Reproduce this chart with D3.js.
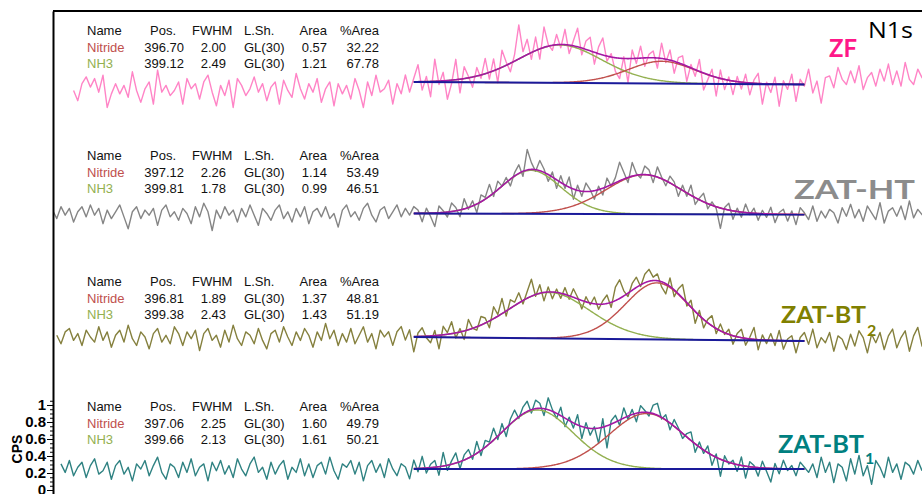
<!DOCTYPE html>
<html><head><meta charset="utf-8">
<script src="https://cdn.jsdelivr.net/npm/d3@7"></script>
<style>body{margin:0;background:#fff}svg{display:block}</style>
</head><body>
<svg id="chart" width="922" height="494"></svg>
<script>
// ---------------- data ----------------
const spectra = ["ZF", "ZAT-HT", "ZAT-BT2", "ZAT-BT1"];
const labelMain = ["ZF", "ZAT-HT", "ZAT-BT", "ZAT-BT"];
const labelSub = ["", "", "2", "1"];
const tableHeaders = ["Name", "Pos.", "FWHM", "L.Sh.", "Area", "%Area"];
const componentNames = ["Nitride", "NH3"];
const lineShape = "GL(30)";
const nitridePos = [396.70, 397.12, 396.81, 397.06];
const nitrideFwhm = [2.00, 2.26, 1.89, 2.25];
const nitrideArea = [0.57, 1.14, 1.37, 1.60];
const nitridePct = [32.22, 53.49, 48.81, 49.79];
const nh3Pos = [399.12, 399.81, 399.38, 399.66];
const nh3Fwhm = [2.49, 1.78, 2.43, 2.13];
const nh3Area = [1.21, 0.99, 1.43, 1.61];
const nh3Pct = [67.78, 46.51, 51.19, 50.21];
const fitRange = [402.6, 393.3];            // binding energy, eV
const bgStart = [4.800, 3.253, 1.800, 0.247]; // CPS at fit start (402.6 eV)
const bgEnd = [4.771, 3.241, 1.753, 0.247];   // CPS at fit end (393.3 eV)
const rawStartBE = [410.7, 411.2, 411.1, 411.0];
const rawStepBE = 0.1;
const yTickValues = [0, 0.2, 0.4, 0.6, 0.8, 1];
// measured residuals (0.01 CPS) of each spectrum about background + fit
const zfResidual = [
 -10,-22,-2,6,-6,4,-12,8,-30,-14,
 -2,-14,-4,-18,12,-10,-24,-8,0,-26,
 14,-12,-4,-16,-10,0,-26,4,-8,-2,
 -20,0,8,-12,-28,-4,-16,2,-30,4,
 -4,-16,-8,6,-12,-2,-22,-6,0,-26,
 2,-10,-18,10,-8,-20,-2,-12,4,-24,
 -8,0,-28,-2,-14,-4,-20,4,-10,-30,
 0,-16,8,-12,-8,2,-26,-2,-14,8,
 -12,4,20,-10,6,-18,26,-4,10,-22,
 -4,24,-16,14,2,-12,10,-4,18,-8,
 14,-16,20,4,-10,8,40,6,18,-8,
 16,-12,24,2,-6,12,-4,18,-10,6,
 22,-8,10,16,-14,8,20,-6,4,-16,
 -24,2,-28,10,-6,14,-10,4,8,-12,
 18,-4,12,-14,6,10,-18,4,-8,14,
 -20,-6,8,-22,10,-12,4,-16,6,-8,
 10,-14,4,12,-24,2,-10,8,-26,4,
 -6,12,-20,6,-2,18,-10,4,-22,8,
 10,-4,20,6,0,16,2,22,-6,8,
 14,-2,18,4,24,0,16,-2,26,6,
 0,18,8,2];
const htResidual = [
 4,-6,8,-2,6,-10,2,8,-4,10,
 -2,6,-12,4,-6,2,10,-4,-18,2,
 8,-6,4,-2,6,-14,4,10,-4,2,
 -8,6,0,-12,8,-4,12,2,-20,4,
 -6,8,-2,4,-10,6,-4,10,-2,-14,
 6,0,-8,4,10,-6,2,-10,6,-4,
 8,-12,2,6,-4,8,-6,0,-16,4,
 10,-4,2,-8,6,12,-2,-10,4,8,
 -6,2,10,-4,6,-2,8,4,-10,6,
 -4,-16,8,2,-6,10,4,-8,12,-2,
 6,-10,8,2,14,-4,10,0,6,-8,
 4,10,-6,24,8,-2,12,4,-8,6,
 -10,8,-4,12,-12,6,-6,10,2,-10,
 4,-8,10,-2,6,22,8,-6,16,2,
 -4,10,6,-8,12,2,-6,8,4,-10,
 6,-4,12,-8,2,10,-6,4,-2,-24,
 2,8,-10,4,-6,10,-2,6,-8,4,
 -4,8,-10,2,6,-8,4,-12,8,2,
 -6,10,-8,4,-4,6,2,-10,8,-2,
 12,-4,6,-8,10,2,-6,14,-10,4,
 8,-2,10,-6,16,-4,6,0,-8];
const bt2Residual = [
 2,-8,6,10,-4,4,-10,8,0,-6,
 12,-4,6,-12,2,8,-6,14,-2,-10,
 6,0,-14,4,10,-6,2,-8,12,4,
 -10,6,-2,8,-16,4,10,-4,2,-12,
 8,-6,14,-2,-10,6,2,-8,10,-4,
 -14,4,8,-6,12,0,-10,6,-4,10,
 2,-12,6,-4,16,-2,8,-10,4,-6,
 10,-8,2,12,-6,4,-14,8,0,6,
 -10,6,12,-4,8,-18,4,10,-2,-8,
 6,-16,10,2,14,-6,4,-10,12,0,
 -4,10,6,-8,14,2,18,-6,10,4,
 12,-4,8,20,-2,10,-10,6,-8,4,
 -6,8,-4,10,2,-10,6,-2,8,-6,
 4,10,-6,16,22,6,-4,8,12,-2,
 10,14,4,8,-6,-12,10,-8,6,16,
 -4,8,-14,6,-10,4,12,-6,8,-2,
 6,-10,4,10,-8,2,14,-12,6,-4,
 8,-6,12,-10,2,6,-14,4,10,-4,
 14,-8,4,-2,10,-12,6,2,-10,8,
 -6,12,4,-14,8,-2,10,-10,6,14,
 -8,4,12,-12,6,16,-6,4];
const bt1Residual = [
 6,-4,10,-8,2,8,-10,4,12,-6,
 -2,8,-12,4,10,-6,2,-14,6,0,
 10,-8,4,14,-4,-12,6,2,-10,8,
 -4,12,-8,2,6,-14,8,-2,10,-6,
 4,-10,12,0,-8,6,14,-4,2,-12,
 8,-6,4,10,-12,2,-4,12,-8,6,
 -10,4,8,-6,14,-2,-12,6,2,10,
 -6,8,-14,4,10,-4,6,-10,12,0,
 -8,6,2,-12,10,-4,14,-6,4,8,
 -10,16,-6,4,12,-8,6,10,-4,14,
 -6,8,2,14,-4,10,-10,6,12,-2,
 8,12,-4,10,6,-8,14,2,-6,10,
 -10,4,-6,12,-14,6,-8,2,-18,10,
 -26,4,8,-6,12,-4,6,-10,8,2,
 -4,10,14,-2,6,-8,8,2,-6,4,
 10,-10,6,-4,8,-12,4,-20,6,-2,
 4,-8,10,-14,6,2,-10,8,-4,-16,
 6,-6,10,-2,4,-8,8,2,-4,6,
 -10,14,-4,8,-16,6,2,-14,12,-6,
 16,-8,4,-18,10,2,-10,14,-4,6,
 -12,8,4,-6,10,-2];
const residuals = [zfResidual, htResidual, bt2Residual, bt1Residual];

// ---------------- styles / layout ----------------
const rawColors = ["#ff84c6", "#858585", "#85803e", "#2f8282"];
const labelColors = ["#ff1889", "#8c8c8c", "#808000", "#008080"];
const nitrideColor = "#c0504d", nh3Color = "#93b050", envColor = "#a418a4", bgColor = "#1a1a9a";
const tableTop = [35, 160, 286, 411];
const rowGap = 16.5;
const labelPos = [
  {x: 829, y: 57, size: 25, len: 28},
  {x: 794, y: 199, size: 27, len: 121},
  {x: 781, y: 323, size: 23, len: 85, sx: 867, sy: 336},
  {x: 778, y: 453, size: 25, len: 86, sx: 865, sy: 464}
];

const svg = d3.select("#chart");
const x = d3.scaleLinear().domain([411.19, 390.50]).range([53, 922]);
const y = d3.scaleLinear().domain([-0.047, 5.635]).range([494, 11]);

// GL(30) product line shape
const mix = 0.3;
function glShape(be, pos, fwhm) {
  const u = (be - pos) / fwhm;
  return Math.exp(-4 * Math.LN2 * (1 - mix) * u * u) / (1 + 4 * mix * u * u);
}
let unitIntegral = 0;
for (let u = -8; u <= 8; u += 0.001) unitIntegral += glShape(u, 0, 1) * 0.001;
const areaScale = 0.957;
function comp(be, pos, fwhm, area) {
  return area * areaScale / (fwhm * unitIntegral) * glShape(be, pos, fwhm);
}
function bg(s, be) {
  if (be >= fitRange[0]) return bgStart[s];
  if (be <= fitRange[1]) return bgEnd[s];
  const t = (fitRange[0] - be) / (fitRange[0] - fitRange[1]);
  return bgStart[s] + t * (bgEnd[s] - bgStart[s]);
}
const nitrideAt = (s, be) => comp(be, nitridePos[s], nitrideFwhm[s], nitrideArea[s]);
const nh3At = (s, be) => comp(be, nh3Pos[s], nh3Fwhm[s], nh3Area[s]);

svg.append("defs").append("clipPath").attr("id", "clip")
  .append("rect").attr("x", 54).attr("y", 12).attr("width", 868).attr("height", 482);

const plot = svg.append("g").attr("clip-path", "url(#clip)");
const line = d3.line().x(d => x(d[0])).y(d => y(d[1]));

const fitGrid = d3.range(fitRange[0], fitRange[1] - 0.001, -0.02);

spectra.forEach((name, s) => {
  const g = plot.append("g");
  const raw = residuals[s].map((r, k) => {
    const be = rawStartBE[s] - k * rawStepBE;
    return [be, bg(s, be) + nitrideAt(s, be) + nh3At(s, be) + r / 100];
  });
  g.append("path").attr("d", line(raw)).attr("fill", "none")
    .attr("stroke", rawColors[s]).attr("stroke-width", 1.4).attr("stroke-linejoin", "round");
  g.append("path").attr("d", line(fitGrid.map(be => [be, bg(s, be) + nh3At(s, be)])))
    .attr("fill", "none").attr("stroke", nh3Color).attr("stroke-width", 1.4);
  g.append("path").attr("d", line(fitGrid.map(be => [be, bg(s, be) + nitrideAt(s, be)])))
    .attr("fill", "none").attr("stroke", nitrideColor).attr("stroke-width", 1.4);
  g.append("path").attr("d", line(fitGrid.map(be => [be, bg(s, be) + nh3At(s, be) + nitrideAt(s, be)])))
    .attr("fill", "none").attr("stroke", envColor).attr("stroke-width", 1.6);
  g.append("path").attr("d", line([[fitRange[0], bgStart[s]], [fitRange[1], bgEnd[s]]]))
    .attr("fill", "none").attr("stroke", bgColor).attr("stroke-width", 2);

  // table
  const T = tableTop[s];
  const t = svg.append("g").attr("font-family", "'Liberation Sans', Arial, sans-serif").attr("font-size", 13);
  const hdr = [[87, "start"], [176, "end"], [192, "start"], [244, "start"], [327, "end"], [379, "end"]];
  tableHeaders.forEach((h, i) => t.append("text").attr("x", hdr[i][0]).attr("y", T)
    .attr("text-anchor", hdr[i][1]).attr("fill", "#111").text(h));
  const rows = [
    [componentNames[0], nitridePos[s], nitrideFwhm[s], nitrideArea[s], nitridePct[s], nitrideColor],
    [componentNames[1], nh3Pos[s], nh3Fwhm[s], nh3Area[s], nh3Pct[s], nh3Color]
  ];
  rows.forEach((r, j) => {
    const yy = T + rowGap * (j + 1);
    t.append("text").attr("x", 87).attr("y", yy).attr("fill", r[5]).text(r[0]);
    t.append("text").attr("x", 184).attr("y", yy).attr("text-anchor", "end").attr("fill", "#111").text(r[1].toFixed(2));
    t.append("text").attr("x", 226).attr("y", yy).attr("text-anchor", "end").attr("fill", "#111").text(r[2].toFixed(2));
    t.append("text").attr("x", 244).attr("y", yy).attr("fill", "#111").text(lineShape);
    t.append("text").attr("x", 327).attr("y", yy).attr("text-anchor", "end").attr("fill", "#111").text(r[3].toFixed(2));
    t.append("text").attr("x", 379).attr("y", yy).attr("text-anchor", "end").attr("fill", "#111").text(r[4].toFixed(2));
  });

  // sample label
  const lp = labelPos[s];
  svg.append("text").attr("x", lp.x).attr("y", lp.y)
    .attr("font-family", "Lato, 'Open Sans', sans-serif").attr("font-weight", "bold")
    .attr("font-size", lp.size).attr("fill", labelColors[s])
    .attr("textLength", lp.len).attr("lengthAdjust", "spacingAndGlyphs").text(labelMain[s]);
  if (labelSub[s]) {
    svg.append("text").attr("x", lp.sx).attr("y", lp.sy)
      .attr("font-family", "Lato, 'Open Sans', sans-serif").attr("font-weight", "bold")
      .attr("font-size", 16).attr("fill", labelColors[s]).text(labelSub[s]);
  }
});

// N1s title
svg.append("text").attr("x", 868).attr("y", 38)
  .attr("font-family", "'Open Sans', sans-serif").attr("font-size", 22).attr("fill", "#000")
  .attr("textLength", 45).attr("lengthAdjust", "spacingAndGlyphs").text("N1s");

// top frame line
svg.append("line").attr("x1", 53).attr("x2", 922).attr("y1", 11).attr("y2", 11)
  .attr("stroke", "#000").attr("stroke-width", 2);

// y axis
const minor = svg.append("g").attr("transform", "translate(53,0)")
  .call(d3.axisLeft(y).tickValues(d3.range(0, 1.051, 0.05)).tickSize(3).tickSizeOuter(0).tickFormat(""));
minor.select(".domain").remove();
const ax = svg.append("g").attr("transform", "translate(53,0)")
  .call(d3.axisLeft(y).tickValues(yTickValues).tickSize(6).tickSizeOuter(0).tickPadding(1).tickFormat(d => String(d)));
ax.select(".domain").attr("stroke-width", 2);
ax.selectAll("text").attr("font-family", "'Liberation Sans', Arial, sans-serif")
  .attr("font-weight", "bold").attr("font-size", 15).attr("fill", "#000");
svg.append("text").attr("transform", "translate(22,449) rotate(-90)")
  .attr("text-anchor", "middle").attr("font-family", "'Liberation Sans', Arial, sans-serif")
  .attr("font-weight", "bold").attr("font-size", 14).text("CPS");
</script>
</body></html>
